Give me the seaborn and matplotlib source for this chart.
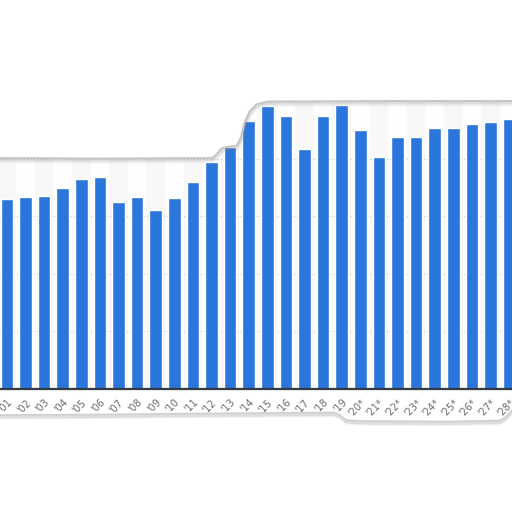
import matplotlib
matplotlib.use("Agg")
import matplotlib.pyplot as plt
import seaborn as sns
import pandas as pd
import numpy as np

# ---- data ----
years = [f"'{i:02d}" + ("*" if i >= 20 else "") for i in range(1, 29)]
values = [165, 167, 168, 175, 183, 184, 163, 167, 156, 166, 180, 197, 210, 233,
          246, 237, 209, 237, 247, 225, 202, 219, 219, 227, 227, 230, 232, 235]
grid_ticks = [50, 100, 150, 200, 250]

BAR = "#2a76db"

sns.set_theme(style="white")
plt.rcParams['font.family'] = ['DejaVu Sans']

fig = plt.figure(figsize=(5.12, 5.12), dpi=100)
fig.patch.set_facecolor("white")

ax = fig.add_axes([0, (512 - 389) / 512, 1, 288 / 512])
df = pd.DataFrame({"year": years, "value": values})

# alternating column bands
for i in range(len(years)):
    if i % 2 == 0:
        ax.axvspan(i - 0.5, i + 0.5, color="#f8f8f8", zorder=0, lw=0)
ax.set_facecolor("#fefefe")

sns.barplot(data=df, x="year", y="value", color=BAR, width=0.68,
            saturation=1, ax=ax, zorder=3)

ax.set_xlim(-0.371, 27.16)
ax.set_ylim(0, 250.4)
ax.set_yticks(grid_ticks)
ax.set_yticklabels([])
ax.tick_params(axis="y", length=0)
for y in grid_ticks:
    ax.axhline(y, color="#c9c9c9", lw=0.8, ls=(0, (1, 2)), zorder=1)
for s in ["top", "left", "right"]:
    ax.spines[s].set_visible(False)
ax.spines["bottom"].set_color("#333a45")
ax.spines["bottom"].set_linewidth(1.6)
ax.spines["bottom"].set_zorder(5)
ax.set_xlabel("")
ax.set_ylabel("")
ax.tick_params(axis="x", length=0, pad=6, labelsize=7, labelcolor="#6a6a6a")
for lab in ax.get_xticklabels():
    lab.set_rotation(45)
    lab.set_ha("right")
    lab.set_rotation_mode("anchor")

# ---- torn paper overlay ----
ov = fig.add_axes([0, 0, 1, 1], zorder=10)
ov.set_xlim(0, 512)
ov.set_ylim(512, 0)
ov.axis("off")
ov.patch.set_alpha(0)

top_edge = [(0, 158), (100, 158.5), (212, 158), (216, 155), (222, 148), (230, 146.5),
            (237, 145.5), (241, 138), (245, 122), (250, 111), (257, 104), (268, 101.5),
            (380, 101), (512, 101)]
bot_edge = [(0, 415), (100, 414.5), (200, 413.5), (334, 412.5), (340, 415), (346, 420),
            (360, 421), (450, 421.5), (500, 420.5), (506, 417), (512, 410)]

tx, ty = zip(*top_edge)
ov.fill(list(tx) + [512, 0], list(ty) + [0, 0], color="white", zorder=1, lw=0)
for off, a, w in [(2.5, 0.10, 4), (1.5, 0.18, 2.5)]:
    ov.plot(tx, np.array(ty) + off, color="#888888", alpha=a, lw=w,
            solid_capstyle="round", zorder=2)
ov.plot(tx, ty, color="#c4c4c4", lw=1.3, zorder=3)

bx, by = zip(*bot_edge)
for off, a, w in [(3.0, 0.10, 4.5), (1.8, 0.18, 2.5)]:
    ov.plot(bx, np.array(by) + off, color="#888888", alpha=a, lw=w,
            solid_capstyle="round", zorder=2)
ov.fill(list(bx) + [512, 0], list(np.array(by) + 0.5) + [512, 512], color="white",
        zorder=1, lw=0)
ov.plot(bx, by, color="#cfcfcf", lw=1.2, zorder=3)
ov.fill(list(bx) + [512, 0], list(np.array(by) + 4.5) + [512, 512], color="white",
        zorder=4, lw=0)

fig.savefig("out.png", dpi=100, facecolor="white")
